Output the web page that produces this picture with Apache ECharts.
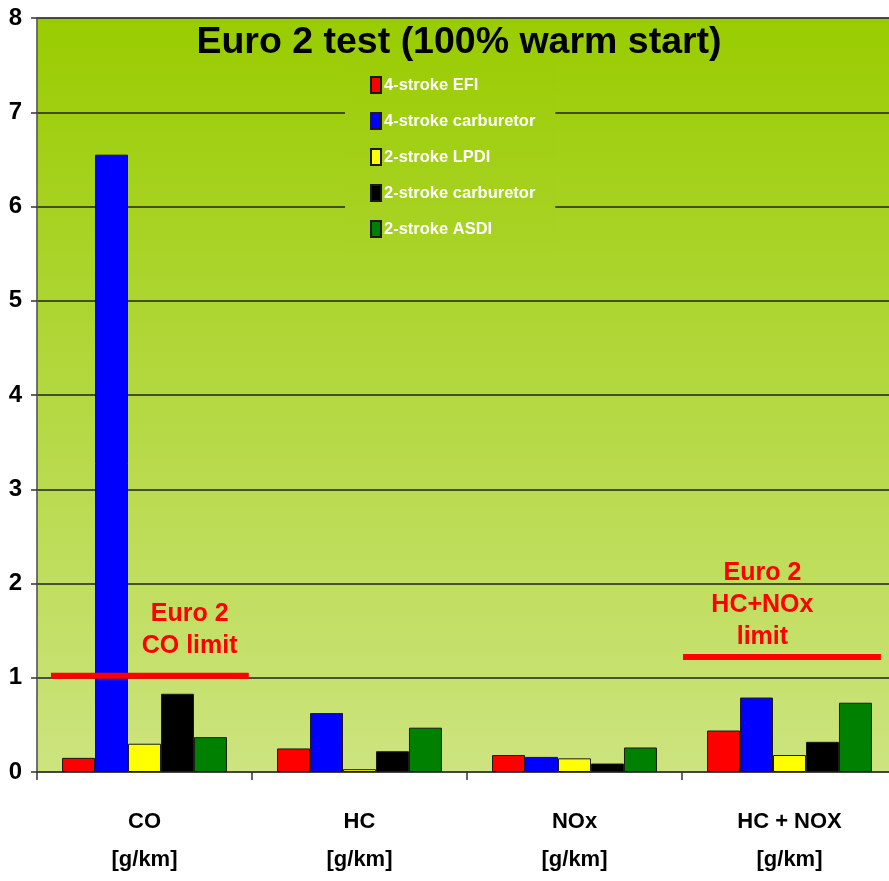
<!DOCTYPE html>
<html>
<head>
<meta charset="utf-8">
<title>Euro 2 test (100% warm start)</title>
<script src="https://cdn.jsdelivr.net/npm/echarts@6/dist/echarts.min.js"></script>
<style>
  html, body { margin: 0; padding: 0; background: #ffffff; }
  #chart { width: 889px; height: 881px; }
</style>
</head>
<body>
<div id="chart"></div>
<script>
// Emission categories and measured values, g/km
const categories = ['CO\n[g/km]', 'HC\n[g/km]', 'NOx\n[g/km]', 'HC + NOX\n[g/km]'];
const seriesNames = ['4-stroke EFI', '4-stroke carburetor', '2-stroke LPDI', '2-stroke carburetor', '2-stroke ASDI'];
const efi4Stroke   = [0.15, 0.25, 0.18, 0.44];
const carb4Stroke  = [6.55, 0.625, 0.16, 0.79];
const lpdi2Stroke  = [0.30, 0.03, 0.145, 0.18];
const carb2Stroke  = [0.83, 0.22, 0.09, 0.32];
const asdi2Stroke  = [0.37, 0.47, 0.26, 0.735];
const yTicks = [0, 1, 2, 3, 4, 5, 6, 7, 8];

// Euro 2 limits
const coLimit = 1.02;
const hcNoxLimit = 1.22;

const FONT = '"Liberation Sans", Arial, sans-serif';

// plot background gradient
const bgTop = [0x99, 0xcc, 0x00];
const bgBottom = [0xcd, 0xe4, 0x7f];
const plotTop = 18, plotBottom = 772;
function bgAt(y) {
  const t = Math.min(1, Math.max(0, (y - plotTop) / (plotBottom - plotTop)));
  const c = bgTop.map((v, i) => Math.round(v + (bgBottom[i] - v) * t));
  return 'rgb(' + c.join(',') + ')';
}

const colors = ['#ff0000', '#0000ff', '#ffff00', '#000000', '#008000'];
const values = [efi4Stroke, carb4Stroke, lpdi2Stroke, carb2Stroke, asdi2Stroke];

const legendTop = 62, legendBottom = 250;

const chart = echarts.init(document.getElementById('chart'), null, { renderer: 'canvas' });

const barSeries = seriesNames.map((name, i) => ({
  name: name,
  type: 'bar',
  data: values[i],
  barGap: '0%',
  barCategoryGap: '23.3%',
  itemStyle: { color: colors[i], borderColor: '#1a1a1a', borderWidth: 1 },
  z: 3
}));

function limitSeries(name, value, span, labelText, labelPos) {
  return {
    name: name,
    type: 'line',
    xAxisIndex: 1,
    yAxisIndex: 0,
    data: [[span[0], value], [span[1], value]],
    symbol: 'none',
    lineStyle: { color: '#ff0000', width: 6, cap: 'butt' },
    silent: true,
    z: 5,
    markPoint: {
      symbol: 'circle',
      symbolSize: 0,
      silent: true,
      label: {
        show: true,
        position: 'inside',
        formatter: labelText,
        color: '#ff0000',
        fontFamily: FONT,
        fontWeight: 'bold',
        fontSize: 25,
        lineHeight: 32,
        align: 'center'
      },
      data: [{ coord: labelPos }]
    }
  };
}

const option = {
  backgroundColor: '#ffffff',
  animation: false,
  title: {
    text: 'Euro 2 test (100% warm start)',
    left: 454,
    textAlign: 'center',
    top: 19,
    textStyle: { fontFamily: FONT, fontWeight: 'bold', fontSize: 37.5, color: '#000000' }
  },
  legend: {
    data: seriesNames,
    orient: 'vertical',
    left: 345,
    top: legendTop,
    padding: [14, 20, 14, 25],
    itemWidth: 10,
    itemHeight: 16,
    itemGap: 18,
    icon: 'rect',
    backgroundColor: new echarts.graphic.LinearGradient(0, 0, 0, 1, [
      { offset: 0, color: bgAt(legendTop) },
      { offset: 1, color: bgAt(legendBottom) }
    ]),
    textStyle: { color: '#ffffff', fontFamily: FONT, fontWeight: 'bold', fontSize: 16.5, padding: [0, 0, 0, -2] },
    z: 4
  },
  grid: {
    left: 37,
    width: 860,
    top: plotTop,
    bottom: 881 - plotBottom,
    outerBoundsMode: 'none',
    containLabel: false,
    show: true,
    borderColor: '#9a9a9a',
    borderWidth: 1,
    backgroundColor: new echarts.graphic.LinearGradient(0, 0, 0, 1, [
      { offset: 0, color: 'rgb(' + bgTop.join(',') + ')' },
      { offset: 1, color: 'rgb(' + bgBottom.join(',') + ')' }
    ])
  },
  xAxis: [
    {
      type: 'category',
      data: categories,
      boundaryGap: true,
      axisLine: { show: true, lineStyle: { color: '#444444', width: 2 } },
      axisTick: { show: true, length: 8, lineStyle: { color: '#333333', width: 1.5 } },
      axisLabel: {
        margin: 31,
        color: '#000000',
        fontFamily: FONT,
        fontWeight: 'bold',
        fontSize: 22,
        lineHeight: 38
      },
      splitLine: { show: false }
    },
    {
      type: 'value',
      min: 0,
      max: 4,
      show: false
    }
  ],
  yAxis: {
    type: 'value',
    min: yTicks[0],
    max: yTicks[yTicks.length - 1],
    interval: 1,
    axisLine: { show: true, lineStyle: { color: '#555555', width: 1.5 } },
    axisTick: { show: true, length: 6, lineStyle: { color: '#333333', width: 1.5 } },
    axisLabel: {
      margin: 15,
      color: '#000000',
      fontFamily: FONT,
      fontWeight: 'bold',
      fontSize: 24
    },
    splitLine: { show: true, lineStyle: { color: '#222222', width: 1.5 } }
  },
  series: barSeries.concat([
    limitSeries('Euro 2 CO limit', coLimit, [0.065, 0.985], 'Euro 2\nCO limit', [0.71, 1.51]),
    limitSeries('Euro 2 HC+NOx limit', hcNoxLimit, [3.005, 3.925], 'Euro 2\nHC+NOx\nlimit', [3.374, 1.77])
  ])
};

chart.setOption(option);
</script>
</body>
</html>
